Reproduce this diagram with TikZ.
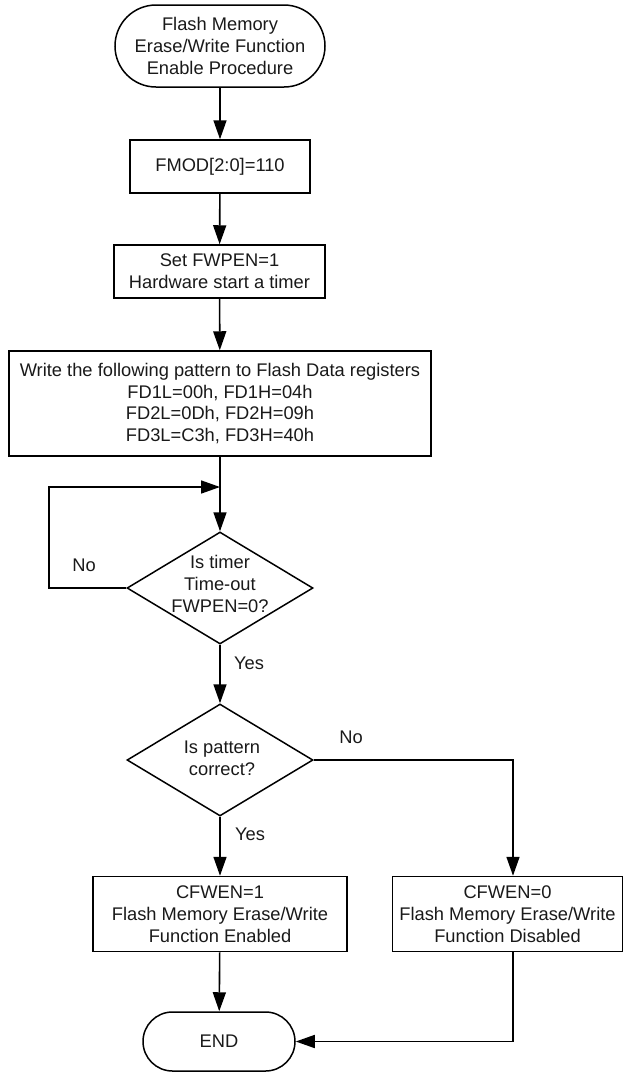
\documentclass[tikz,border=0pt]{standalone}
\usepackage{fontspec}
\setmainfont{Liberation Sans}
\usetikzlibrary{arrows.meta,shapes.geometric}

\tikzset{
  every node/.style={font=\fontsize{18.3}{21.7}\selectfont, text=black!90},
  box/.style={draw, line width=1.5pt, rectangle, align=center, inner sep=0pt},
  term/.style={box, rounded corners=#1},
  decision/.style={draw, line width=1.5pt, diamond, inner sep=0pt},
  lbl/.style={inner sep=0pt},
  flow/.style={line width=1.6pt, -{Triangle[length=19pt,width=13pt]}}
}

\begin{document}
\begin{tikzpicture}[x=1pt,y=-1pt]
\useasboundingbox (0,0) rectangle (624,1072);

%% main column
\node [term=41pt, minimum width=210pt, minimum height=82pt] (start) at (220,46)
  {Flash Memory\\Erase/Write Function\\Enable Procedure};
\node [box, minimum width=180pt, minimum height=53pt] (fmod) at (220,166.5) {FMOD[2:0]=110};
\node [box, minimum width=211pt, minimum height=53pt] (setwp) at (219.5,271.5)
  {Set FWPEN=1\\Hardware start a timer};
\node [box, minimum width=422pt, minimum height=105pt] (pattern) at (220,403.5)
  {Write the following pattern to Flash Data registers\\FD1L=00h, FD1H=04h\\FD2L=0Dh, FD2H=09h\\FD3L=C3h, FD3H=40h};
\coordinate (loopin) at (220,487);

%% decisions
\node [decision, minimum width=186pt, minimum height=112pt] (qtime) at (220,588) {};
\node [lbl, align=center] (qtimetxt) at (220,584) {Is timer\\Time-out\\FWPEN=0?};
\node [decision, minimum width=186pt, minimum height=112pt] (qpat) at (220,760) {};
\node [lbl, align=center] (qpattxt) at (222,758) {Is pattern\\correct?};

%% results
\node [box, minimum width=254pt, minimum height=75pt] (enabled) at (220,914)
  {CFWEN=1\\Flash Memory Erase/Write\\Function Enabled};
\node [box, minimum width=230pt, minimum height=75pt] (disabled) at (507.5,914)
  {CFWEN=0\\Flash Memory Erase/Write\\Function Disabled};
\node [term=29.5pt, minimum width=152pt, minimum height=59pt] (endnode) at (219,1041.5) {END};

%% labels
\node [lbl] (no1) at (84,565) {No};
\node [lbl] (yes1) at (249,663) {Yes};
\node [lbl] (no2) at (351,737) {No};
\node [lbl] (yes2) at (250,834) {Yes};

%% connectors
\draw [flow] (start) -- (fmod);
\draw [flow] (fmod) -- (setwp);
\draw [flow] (setwp) -- (pattern);
\draw [flow] (pattern) -- (qtime);
\draw [flow] (qtime.west) -- ++(-77,0) |- (loopin);
\draw [flow] (qtime) -- (qpat);
\draw [flow] (qpat) -- (enabled);
\draw [flow] (qpat.east) -| ([xshift=5.5pt]disabled.north);
\draw [flow] (enabled) -- (endnode);
\draw [flow] ([xshift=5.5pt]disabled.south) |- (endnode.east);

\end{tikzpicture}
\end{document}
